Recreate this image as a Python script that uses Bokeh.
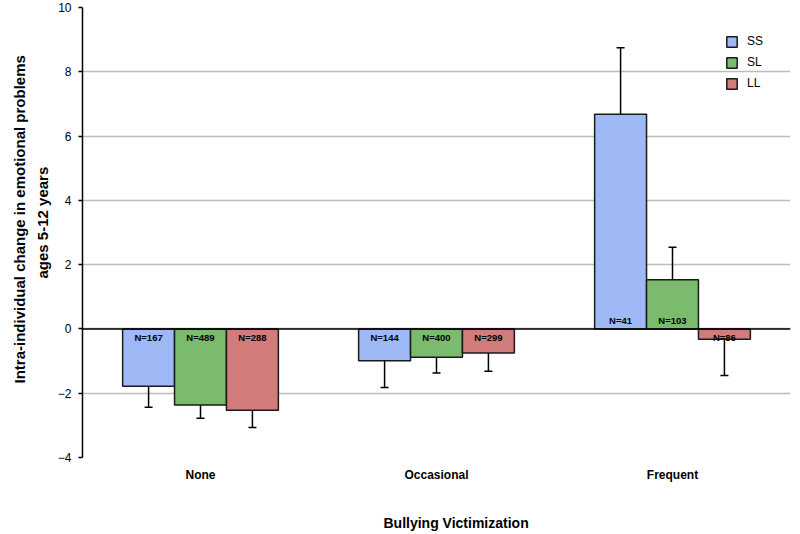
from bokeh.plotting import figure
from bokeh.models import (ColumnDataSource, FactorRange, Range1d, FixedTicker, Span,
                          Legend, LegendItem, Title)
from bokeh.transform import dodge
from bokeh.core.properties import value, field
from bokeh.embed import file_html
from bokeh.resources import INLINE

# ---------------- data ----------------
categories = ["None", "Occasional", "Frequent"]
series = ["SS", "SL", "LL"]
ss_mean = [-1.78, -0.99, 6.68]
ss_err = [0.66, 0.83, 2.07]
ss_n = [167, 144, 41]
sl_mean = [-2.37, -0.88, 1.53]
sl_err = [0.41, 0.49, 1.01]
sl_n = [489, 400, 103]
ll_mean = [-2.53, -0.75, -0.32]
ll_err = [0.54, 0.57, 1.13]
ll_n = [288, 299, 86]
y_ticks = [-4, -2, 0, 2, 4, 6, 8, 10]
y_title_1 = "Intra-individual change in emotional problems"
y_title_2 = "ages 5-12 years"
x_title = "Bullying Victimization"

FONT = "Liberation Sans"
colors = ["#9fb8f6", "#7bbb6e", "#d27b7b"]
offsets = [-0.22, 0.0, 0.22]
bar_w = 0.22

p = figure(width=800, height=534, output_backend="svg", toolbar_location=None,
           x_range=FactorRange(*categories, range_padding=0),
           y_range=Range1d(-4, 10),
           min_border_left=82, min_border_right=10, min_border_top=7, min_border_bottom=77)
p.outline_line_color = None
p.background_fill_color = "white"

# axes
p.yaxis.ticker = FixedTicker(ticks=y_ticks)
p.yaxis.axis_line_color = "black"
p.yaxis.axis_line_width = 1.5
p.yaxis.major_tick_line_color = "black"
p.yaxis.major_tick_line_width = 1.5
p.yaxis.major_tick_out = 4
p.yaxis.major_tick_in = 0
p.yaxis.minor_tick_line_color = None
p.yaxis.major_label_standoff = 7
p.yaxis.major_label_text_font = FONT
p.yaxis.major_label_text_font_size = "12px"
p.yaxis.major_label_text_color = "black"

p.xaxis.axis_line_color = None
p.xaxis.major_tick_line_color = None
p.xaxis.minor_tick_line_color = None
p.xaxis.major_label_standoff = 4
p.xaxis.major_label_text_font = FONT
p.xaxis.major_label_text_font_size = "12px"
p.xaxis.major_label_text_font_style = "bold"
p.xaxis.major_label_text_color = "black"

p.xgrid.grid_line_color = None
p.ygrid.grid_line_color = "#bcbcbc"
p.ygrid.grid_line_width = 1.5

renderers = []
for name, mean, err, ns, col, off in zip(
        series, [ss_mean, sl_mean, ll_mean], [ss_err, sl_err, ll_err],
        [ss_n, sl_n, ll_n], colors, offsets):
    end = [m + (e if m >= 0 else -e) for m, e in zip(mean, err)]
    base = ["bottom" if m >= 0 else "top" for m in mean]
    yoff = [-3 if m >= 0 else 3 for m in mean]
    src = ColumnDataSource(dict(cat=categories, mean=mean, end=end,
                                lab=["N=%d" % n for n in ns], base=base, yoff=yoff,
                                zero=[0] * len(categories)))
    xd = dodge("cat", off, range=p.x_range)
    p.segment(x0=xd, y0="mean", x1=xd, y1="end", source=src,
              line_color="black", line_width=1.5)
    p.scatter(x=xd, y="end", source=src, marker="dash", size=8,
              line_color="black", line_width=1.5)
    r = p.vbar(x=xd, top="mean", bottom=0, width=bar_w, source=src,
               fill_color=col, line_color="#1a1a1a", line_width=1.5)
    renderers.append(r)
    p.text(x=xd, y="zero", text="lab", source=src, text_align="center",
           text_baseline=field("base"), y_offset=field("yoff"),
           text_font=value(FONT), text_font_size="9.5px", text_font_style="bold",
           text_color="black")

p.add_layout(Span(location=0, dimension="width", line_color="black", line_width=1.5))

legend = Legend(items=[LegendItem(label=s, renderers=[r]) for s, r in zip(series, renderers)],
                location=(643, 367))
legend.border_line_color = None
legend.background_fill_alpha = 0
legend.padding = 0
legend.margin = 0
legend.spacing = 7
legend.glyph_width = 13
legend.glyph_height = 13
legend.label_height = 13
legend.label_standoff = 9
legend.label_text_font = FONT
legend.label_text_font_size = "12px"
legend.label_text_color = "black"
p.add_layout(legend)

t2 = Title(text=y_title_2, align="left", offset=179, standoff=8,
           text_font=FONT, text_font_size="15px", text_font_style="bold", text_color="black")
t1 = Title(text=y_title_1, align="left", offset=74, standoff=0,
           text_font=FONT, text_font_size="15px", text_font_style="bold", text_color="black")
p.add_layout(t2, "left")
p.add_layout(t1, "left")

# leading blank line keeps the title low in its panel, as in the reference
tx = Title(text="\n" + x_title, align="left", offset=301, standoff=6,
           vertical_align="bottom", text_line_height=1.6,
           text_font=FONT, text_font_size="14px", text_font_style="bold", text_color="black")
p.add_layout(tx, "below")

open("out.html", "w").write(file_html(p, INLINE))
